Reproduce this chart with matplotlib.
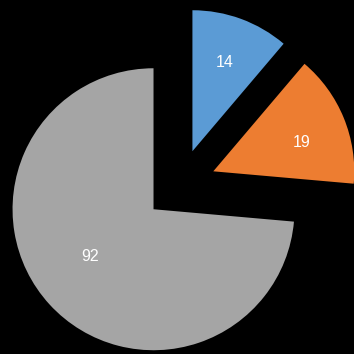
import numpy as np
import matplotlib.pyplot as plt

values = [14, 19, 92]
labels = ["14", "19", "92"]
colors = ["#5B9BD5", "#ED7D31", "#A5A5A5"]
explode = [0.255, 0.255, 0.255]
label_dist = [0.67, 0.66, 0.56]
label_turn = [0, -4, -6]  # small angular nudge (deg) for the label position

fig = plt.figure(figsize=(3.54, 3.54), dpi=100, facecolor="black")
ax = fig.add_axes([0, 0, 1, 1])
ax.set_facecolor("black")

wedges, _ = ax.pie(values, colors=colors, explode=explode, startangle=90,
                   counterclock=False, radius=1.0)

# value labels inside each wedge, measured from the exploded wedge centre
for w, lab, d, t in zip(wedges, labels, label_dist, label_turn):
    ang = np.deg2rad((w.theta1 + w.theta2) / 2 + t)
    cx, cy = w.center
    ax.text(cx + d * np.cos(ang), cy + d * np.sin(ang), lab,
            color="white", fontsize=11.5, family="Liberation Sans",
            ha="center", va="center")

ax.set_aspect("equal")
ax.set_xlim(-1.277, 1.234)
ax.set_ylim(-1.199, 1.312)
ax.axis("off")

fig.savefig("out.png", dpi=100, facecolor="black")
